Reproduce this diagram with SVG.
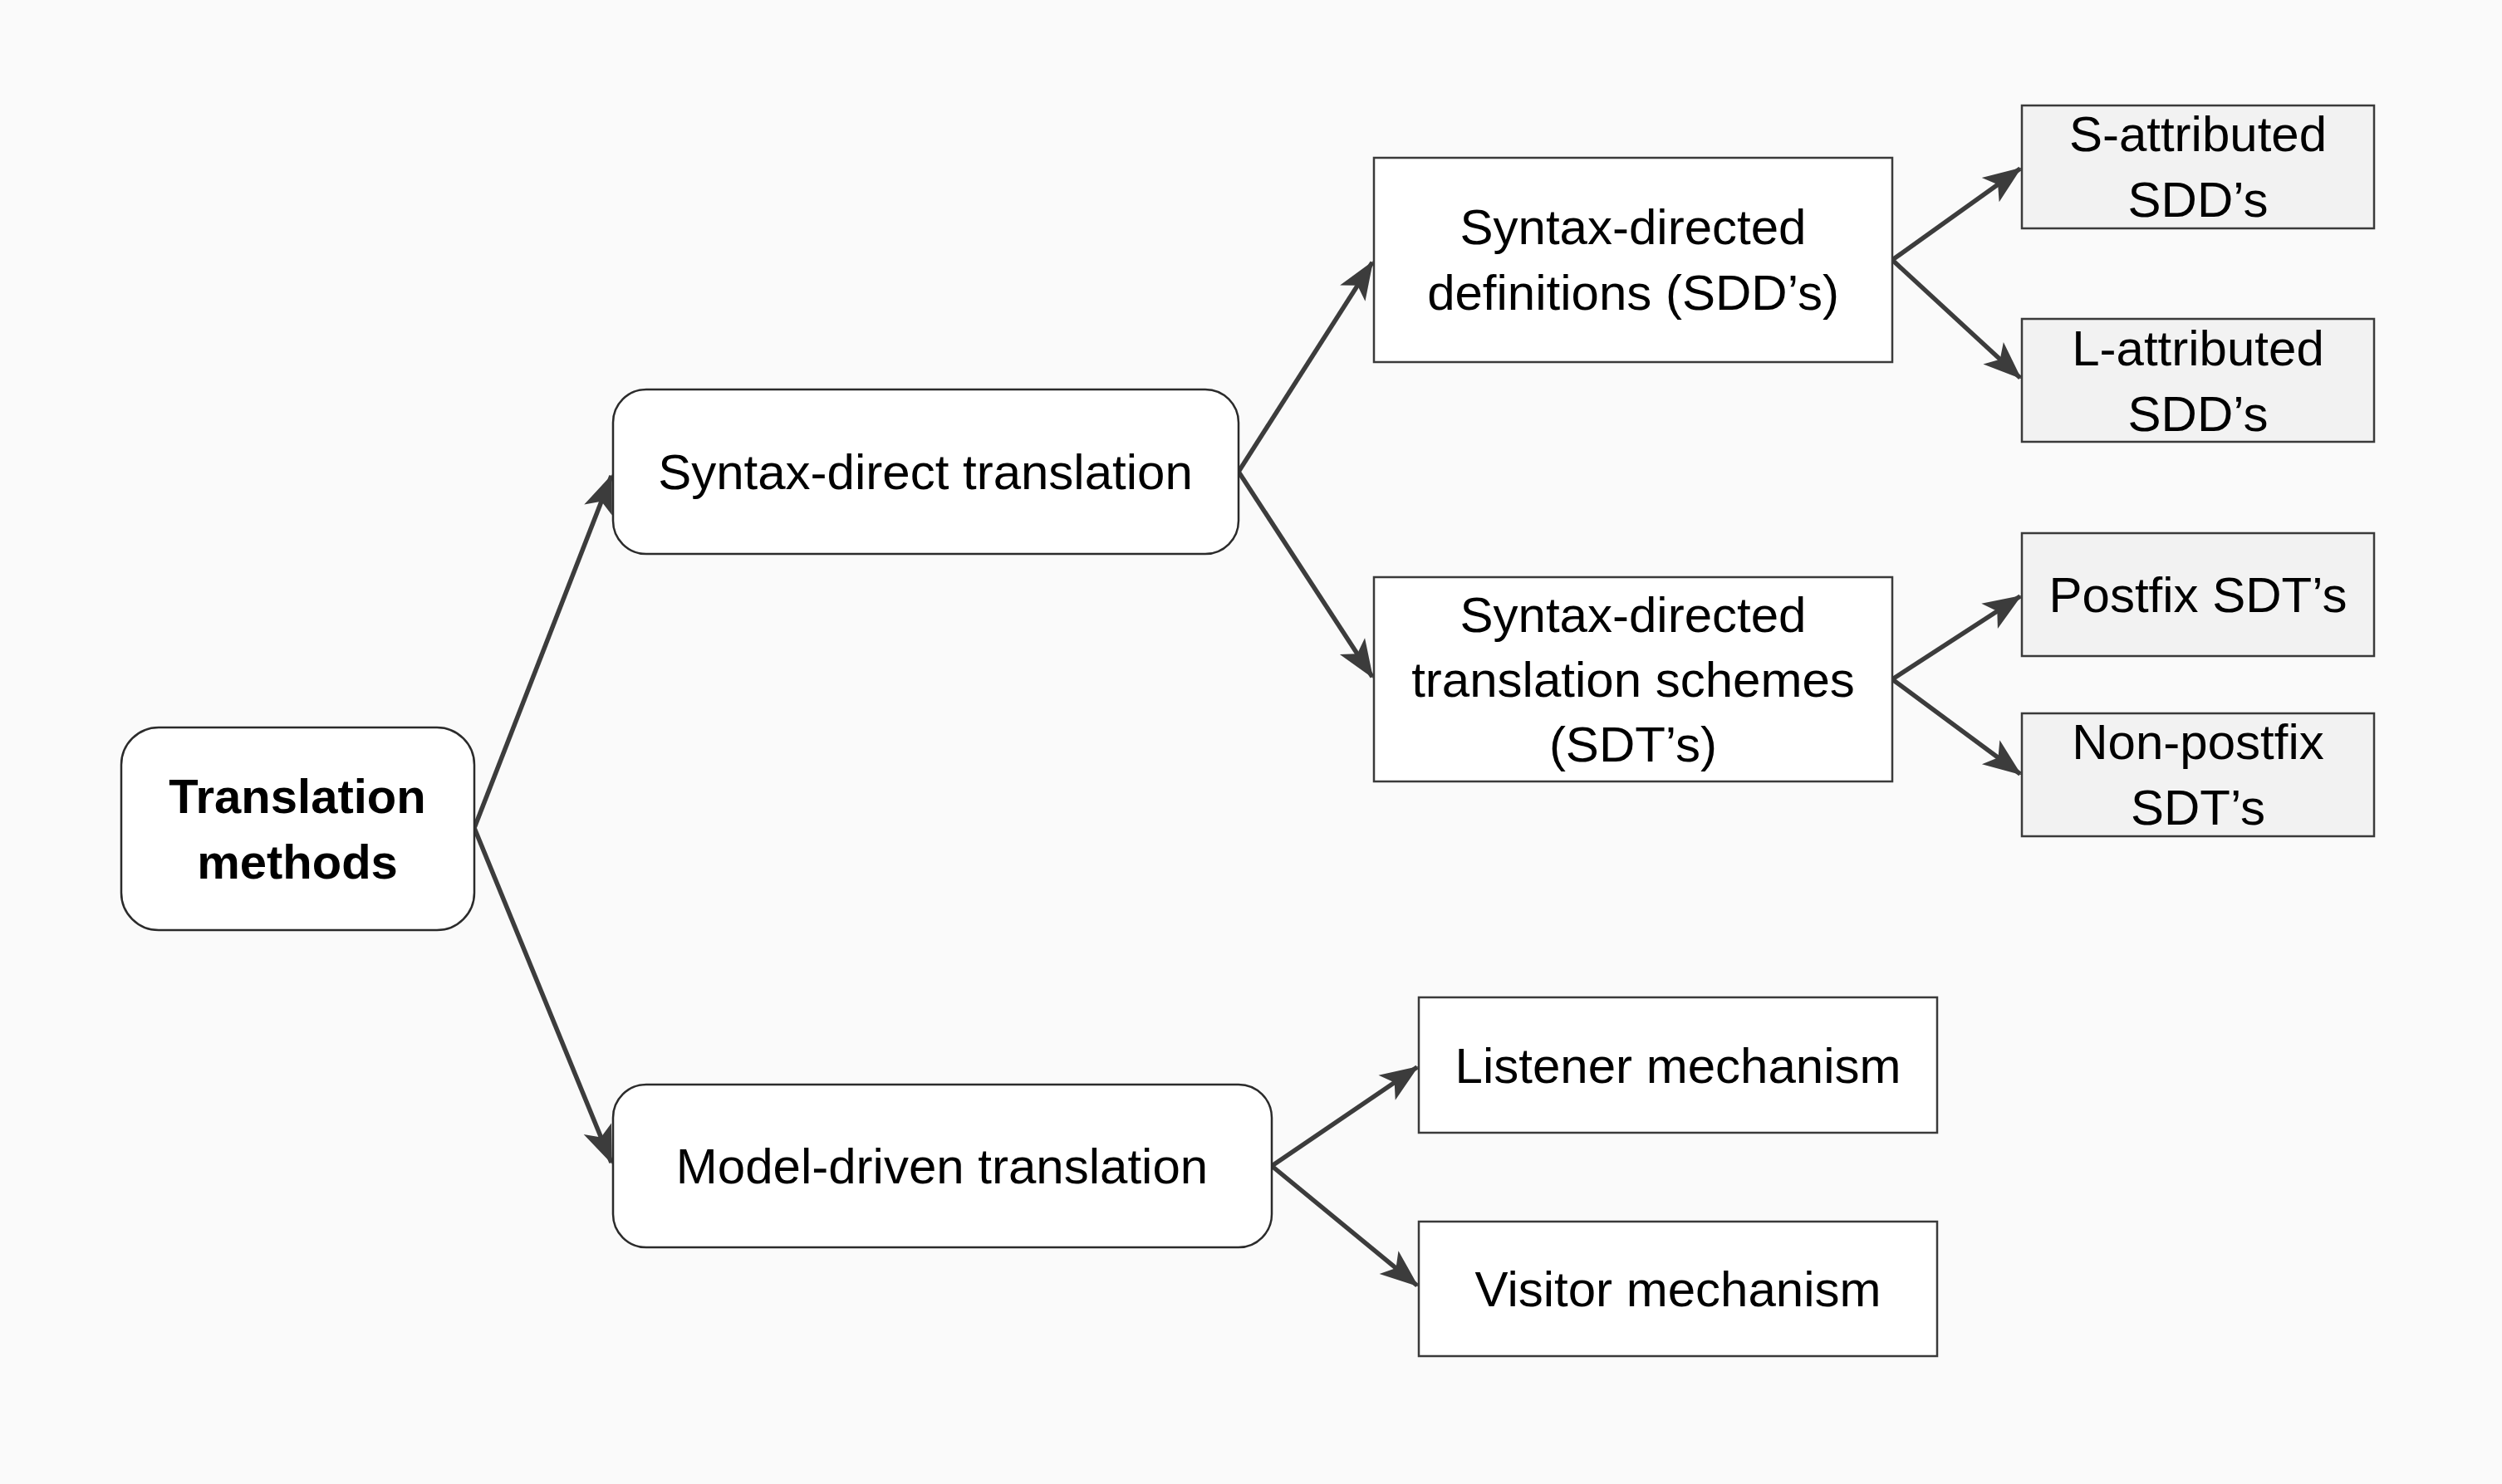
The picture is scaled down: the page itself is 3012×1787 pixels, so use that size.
<svg xmlns="http://www.w3.org/2000/svg" width="3012" height="1787" viewBox="0 0 3012 1787">
<defs>
<style>
.bg{fill:#fafafa}
.rnd{fill:#ffffff;stroke:#2b2b2b;stroke-width:2.5}
.box{fill:#ffffff;stroke:#3a3a3a;stroke-width:2.5}
.leaf{fill:#f2f2f2;stroke:#3a3a3a;stroke-width:2.5}
text{font-family:"Liberation Sans",Arial,sans-serif;font-size:60px;fill:#000;text-anchor:middle}
.b{font-weight:bold;font-size:58px}
.c{fill:none;stroke:#3c3c3c;stroke-width:5.5;marker-end:url(#ah)}
</style>
<marker id="ah" markerUnits="userSpaceOnUse" markerWidth="54" markerHeight="44" viewBox="-48 -22 52 44" refX="0" refY="0" orient="auto">
<path d="M2,0 L-44,-18 L-33,0 L-44,18 Z" fill="#3c3c3c"/>
</marker>
</defs>
<rect class="bg" x="0" y="0" width="3012" height="1787"/>
<g id="connectors">
<line class="c" x1="571" y1="997" x2="736" y2="573"/>
<line class="c" x1="571" y1="997" x2="736" y2="1400"/>
<line class="c" x1="1491" y1="568" x2="1652" y2="316"/>
<line class="c" x1="1491" y1="568" x2="1652" y2="815"/>
<line class="c" x1="2278" y1="313" x2="2432" y2="203"/>
<line class="c" x1="2278" y1="313" x2="2432" y2="455"/>
<line class="c" x1="2278" y1="818" x2="2432" y2="718"/>
<line class="c" x1="2278" y1="818" x2="2432" y2="932"/>
<line class="c" x1="1531" y1="1404" x2="1706" y2="1285"/>
<line class="c" x1="1531" y1="1404" x2="1706" y2="1548"/>
</g>
<g id="translation-methods">
<rect class="rnd" x="146" y="876" width="425" height="244" rx="45" ry="45"/>
<text class="b" x="358" y="979">Translation</text>
<text class="b" x="358" y="1058">methods</text>
</g>
<g id="syntax-direct-translation">
<rect class="rnd" x="738" y="469" width="753" height="198" rx="40" ry="40"/>
<text x="1114" y="589">Syntax-direct translation</text>
</g>
<g id="model-driven-translation">
<rect class="rnd" x="738" y="1306" width="793" height="196" rx="40" ry="40"/>
<text x="1134" y="1425">Model-driven translation</text>
</g>
<g id="sdd">
<rect class="box" x="1654" y="190" width="624" height="246"/>
<text x="1966" y="294">Syntax-directed</text>
<text x="1966" y="373">definitions (SDD’s)</text>
</g>
<g id="sdt">
<rect class="box" x="1654" y="695" width="624" height="246"/>
<text x="1966" y="761">Syntax-directed</text>
<text x="1966" y="839">translation schemes</text>
<text x="1966" y="917">(SDT’s)</text>
</g>
<g id="listener">
<rect class="box" x="1708" y="1201" width="624" height="163"/>
<text x="2020" y="1304">Listener mechanism</text>
</g>
<g id="visitor">
<rect class="box" x="1708" y="1471" width="624" height="162"/>
<text x="2020" y="1573">Visitor mechanism</text>
</g>
<g id="s-attributed">
<rect class="leaf" x="2434" y="127" width="424" height="148"/>
<text x="2646" y="182">S-attributed</text>
<text x="2646" y="261">SDD’s</text>
</g>
<g id="l-attributed">
<rect class="leaf" x="2434" y="384" width="424" height="148"/>
<text x="2646" y="440">L-attributed</text>
<text x="2646" y="519">SDD’s</text>
</g>
<g id="postfix">
<rect class="leaf" x="2434" y="642" width="424" height="148"/>
<text x="2646" y="737">Postfix SDT’s</text>
</g>
<g id="non-postfix">
<rect class="leaf" x="2434" y="859" width="424" height="148"/>
<text x="2646" y="914">Non-postfix</text>
<text x="2646" y="993">SDT’s</text>
</g>
</svg>
